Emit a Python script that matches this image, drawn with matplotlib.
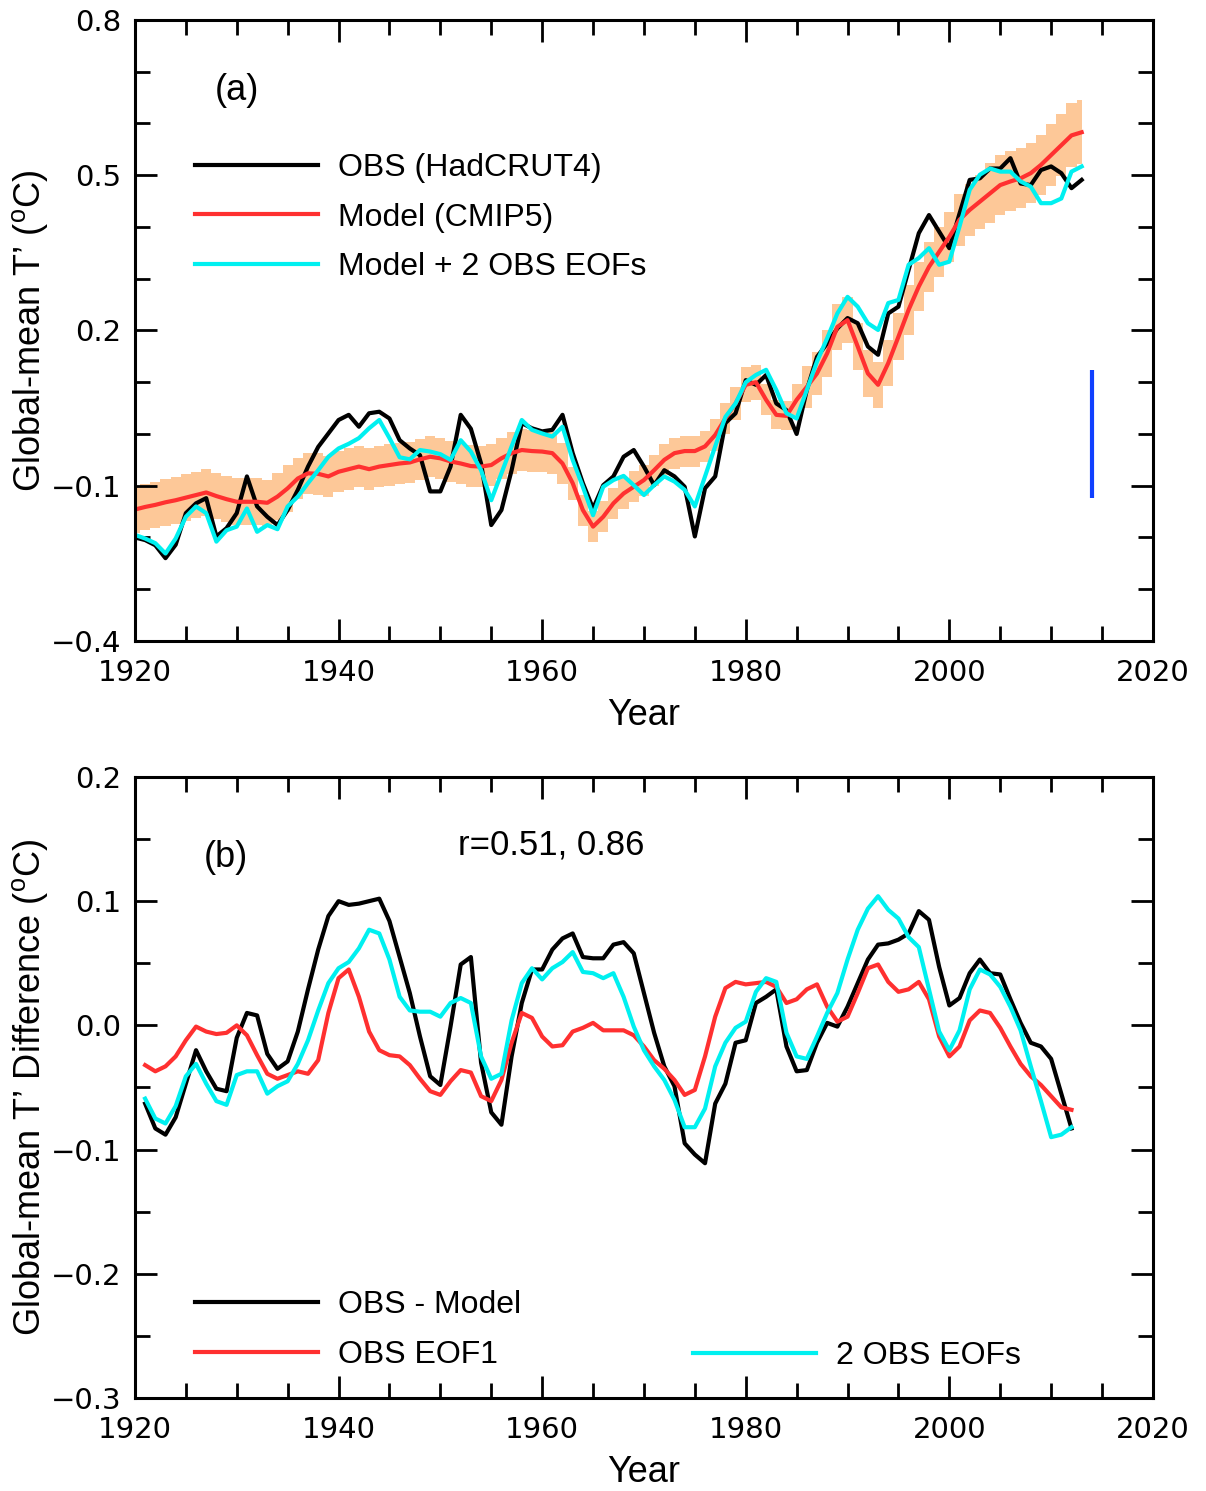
import numpy as np
import matplotlib
matplotlib.use("Agg")
import matplotlib.pyplot as plt
from matplotlib.ticker import FixedLocator, MultipleLocator, FuncFormatter

plt.rcParams['font.family'] = ['Liberation Sans', 'DejaVu Sans']
plt.rcParams['mathtext.fontset'] = 'custom'
plt.rcParams['mathtext.rm'] = 'Liberation Sans'

# ---- panel (a): annual global-mean T' (1920-2013)
years_a = list(range(1920, 2014))
obs_a = [
    -0.200, -0.205, -0.215, -0.240, -0.214, -0.153, -0.134, -0.124, -0.198, -0.182,
    -0.153, -0.082, -0.140, -0.160, -0.176, -0.147, -0.108, -0.063, -0.025, 0.001,
    0.027, 0.037, 0.014, 0.040, 0.043, 0.030, -0.012, -0.028, -0.041, -0.111,
    -0.111, -0.063, 0.037, 0.010, -0.057, -0.176, -0.147, -0.070, 0.021, 0.011,
    0.005, 0.008, 0.037, -0.037, -0.095, -0.144, -0.099, -0.082, -0.044, -0.031,
    -0.063, -0.099, -0.070, -0.082, -0.102, -0.198, -0.105, -0.082, 0.021, 0.040,
    0.104, 0.095, 0.114, 0.059, 0.046, 0.000, 0.085, 0.149, 0.175, 0.204,
    0.224, 0.214, 0.169, 0.153, 0.233, 0.246, 0.317, 0.388, 0.423, 0.391,
    0.359, 0.426, 0.491, 0.494, 0.513, 0.513, 0.533, 0.484, 0.481, 0.510,
    0.517, 0.504, 0.475, 0.491]
model_a = [
    -0.146, -0.141, -0.137, -0.132, -0.128, -0.123, -0.118, -0.113, -0.120, -0.126,
    -0.131, -0.131, -0.131, -0.133, -0.121, -0.105, -0.086, -0.076, -0.077, -0.082,
    -0.073, -0.068, -0.063, -0.068, -0.063, -0.060, -0.057, -0.055, -0.049, -0.044,
    -0.047, -0.053, -0.057, -0.062, -0.063, -0.060, -0.047, -0.037, -0.031, -0.033,
    -0.034, -0.037, -0.057, -0.095, -0.147, -0.179, -0.160, -0.134, -0.115, -0.102,
    -0.089, -0.070, -0.050, -0.037, -0.033, -0.033, -0.024, -0.002, 0.030, 0.059,
    0.095, 0.100, 0.066, 0.037, 0.035, 0.066, 0.091, 0.117, 0.156, 0.207,
    0.220, 0.169, 0.117, 0.095, 0.137, 0.188, 0.240, 0.285, 0.323, 0.352,
    0.381, 0.414, 0.433, 0.449, 0.465, 0.481, 0.488, 0.494, 0.504, 0.520,
    0.539, 0.558, 0.577, 0.583]
model_eof_a = [
    -0.195, -0.202, -0.211, -0.231, -0.202, -0.160, -0.140, -0.153, -0.208, -0.186,
    -0.179, -0.144, -0.189, -0.176, -0.184, -0.140, -0.121, -0.095, -0.070, -0.044,
    -0.028, -0.019, -0.008, 0.011, 0.027, -0.008, -0.045, -0.049, -0.031, -0.034,
    -0.039, -0.050, -0.012, -0.034, -0.070, -0.128, -0.076, -0.024, 0.027, 0.008,
    0.001, -0.005, 0.014, -0.050, -0.102, -0.157, -0.102, -0.089, -0.081, -0.099,
    -0.118, -0.099, -0.082, -0.092, -0.108, -0.140, -0.082, -0.024, 0.033, 0.059,
    0.100, 0.114, 0.124, 0.085, 0.040, 0.030, 0.085, 0.140, 0.185, 0.233,
    0.265, 0.246, 0.214, 0.201, 0.253, 0.259, 0.327, 0.340, 0.359, 0.327,
    0.333, 0.401, 0.472, 0.501, 0.513, 0.507, 0.507, 0.488, 0.478, 0.446,
    0.446, 0.455, 0.507, 0.517]
# half-width of the CMIP5 spread band
spread_a = [
    0.045, 0.045, 0.045, 0.045, 0.045, 0.045, 0.045, 0.045, 0.045, 0.045,
    0.045, 0.045, 0.045, 0.045, 0.045, 0.045, 0.040, 0.040, 0.040, 0.040,
    0.040, 0.040, 0.040, 0.040, 0.040, 0.040, 0.040, 0.040, 0.040, 0.040,
    0.040, 0.040, 0.040, 0.040, 0.040, 0.040, 0.040, 0.040, 0.040, 0.040,
    0.040, 0.040, 0.040, 0.032, 0.030, 0.030, 0.030, 0.030, 0.030, 0.030,
    0.030, 0.030, 0.030, 0.030, 0.030, 0.030, 0.030, 0.030, 0.030, 0.032,
    0.034, 0.034, 0.030, 0.028, 0.028, 0.030, 0.040, 0.042, 0.045, 0.045,
    0.045, 0.045, 0.045, 0.045, 0.045, 0.045, 0.048, 0.048, 0.048, 0.048,
    0.048, 0.050, 0.050, 0.052, 0.058, 0.058, 0.058, 0.058, 0.058, 0.058,
    0.060, 0.060, 0.062, 0.062]
bar_year = 2014
bar_range = [-0.124, 0.124]
yticks_a = [-0.4, -0.1, 0.2, 0.5, 0.8]

# ---- panel (b): differences (1921-2012)
years_b = list(range(1921, 2013))
obs_minus_model = [
    -0.063, -0.083, -0.088, -0.074, -0.047, -0.020, -0.037, -0.051, -0.053, -0.010,
    0.010, 0.008, -0.023, -0.035, -0.029, -0.005, 0.029, 0.061, 0.088, 0.100,
    0.097, 0.098, 0.100, 0.102, 0.084, 0.055, 0.026, -0.009, -0.041, -0.048,
    -0.001, 0.049, 0.055, -0.030, -0.070, -0.080, -0.025, 0.018, 0.045, 0.045,
    0.061, 0.070, 0.074, 0.055, 0.054, 0.054, 0.065, 0.067, 0.058, 0.026,
    -0.006, -0.033, -0.049, -0.095, -0.104, -0.111, -0.063, -0.047, -0.014, -0.012,
    0.018, 0.023, 0.029, -0.017, -0.037, -0.036, -0.014, 0.002, -0.001, 0.015,
    0.034, 0.053, 0.065, 0.066, 0.069, 0.074, 0.092, 0.085, 0.047, 0.016,
    0.022, 0.042, 0.053, 0.042, 0.041, 0.021, 0.002, -0.014, -0.017, -0.027,
    -0.055, -0.083]
eof1 = [
    -0.032, -0.037, -0.033, -0.025, -0.012, -0.001, -0.005, -0.007, -0.006, 0.000,
    -0.008, -0.024, -0.039, -0.043, -0.040, -0.037, -0.039, -0.028, 0.010, 0.038,
    0.045, 0.023, -0.005, -0.020, -0.024, -0.025, -0.032, -0.043, -0.053, -0.056,
    -0.045, -0.036, -0.038, -0.057, -0.061, -0.044, -0.014, 0.010, 0.006, -0.009,
    -0.017, -0.016, -0.005, -0.002, 0.002, -0.004, -0.004, -0.004, -0.008, -0.017,
    -0.028, -0.035, -0.044, -0.056, -0.052, -0.025, 0.007, 0.030, 0.035, 0.033,
    0.034, 0.035, 0.031, 0.018, 0.021, 0.029, 0.033, 0.015, 0.003, 0.007,
    0.026, 0.046, 0.049, 0.035, 0.027, 0.029, 0.035, 0.021, -0.009, -0.025,
    -0.017, 0.004, 0.012, 0.010, -0.002, -0.017, -0.031, -0.041, -0.048, -0.057,
    -0.066, -0.068]
eof2 = [
    -0.059, -0.075, -0.079, -0.065, -0.041, -0.031, -0.047, -0.061, -0.064, -0.040,
    -0.037, -0.037, -0.055, -0.049, -0.045, -0.031, -0.012, 0.012, 0.034, 0.046,
    0.051, 0.062, 0.077, 0.074, 0.053, 0.023, 0.012, 0.011, 0.011, 0.007,
    0.018, 0.022, 0.018, -0.025, -0.043, -0.039, 0.004, 0.034, 0.046, 0.037,
    0.046, 0.051, 0.059, 0.043, 0.042, 0.038, 0.042, 0.023, -0.001, -0.020,
    -0.033, -0.044, -0.060, -0.082, -0.082, -0.067, -0.033, -0.014, -0.002, 0.003,
    0.027, 0.038, 0.035, -0.006, -0.025, -0.027, -0.009, 0.010, 0.026, 0.053,
    0.077, 0.094, 0.104, 0.093, 0.086, 0.071, 0.063, 0.029, -0.005, -0.020,
    -0.004, 0.029, 0.045, 0.041, 0.031, 0.015, -0.004, -0.033, -0.061, -0.090,
    -0.088, -0.082]

BLACK, RED, CYAN, BAND, BLUE = 'black', '#ff3030', '#00f0f0', '#fdc898', '#1040ff'
LW = 3.0
FS_LAB, FS_LEG, FS_PANEL = 26, 23, 26

fig = plt.figure(figsize=(12.06, 14.91), dpi=100)
ax1 = fig.add_axes([0.1119, 0.5701, 0.8441, 0.4165])
ax2 = fig.add_axes([0.1119, 0.0624, 0.8441, 0.4165])

minus_fmt = FuncFormatter(lambda v, p: f'{v:.1f}'.replace('-', '\u2212'))


def style_axes(ax):
    ax.set_xlim(1920, 2020)
    ax.xaxis.set_major_locator(MultipleLocator(20))
    ax.xaxis.set_minor_locator(MultipleLocator(5))
    ax.yaxis.set_major_formatter(minus_fmt)
    ax.tick_params(which='both', direction='in', top=True, right=True, width=2.0)
    ax.tick_params(which='major', length=16, pad=10)
    ax.tick_params(axis='x', which='major', pad=13)
    ax.tick_params(which='minor', length=11)
    for lab in ax.get_xticklabels() + ax.get_yticklabels():
        lab.set_fontfamily('DejaVu Sans')
        lab.set_fontsize(21)
    for s in ax.spines.values():
        s.set_linewidth(2.2)
    ax.set_xlabel('Year', fontsize=FS_LAB, labelpad=8)


# panel (a)
ya = np.array(model_a)
sp = np.array(spread_a)
ax1.fill_between(years_a, ya - sp, ya + sp, step='mid', color=BAND, lw=0)
ax1.plot(years_a, obs_a, color=BLACK, lw=LW, label='OBS (HadCRUT4)')
ax1.plot(years_a, model_a, color=RED, lw=LW, label='Model (CMIP5)')
ax1.plot(years_a, model_eof_a, color=CYAN, lw=LW, label='Model + 2 OBS EOFs')
ax1.vlines(bar_year, bar_range[0], bar_range[1], color=BLUE, lw=LW)
ax1.set_ylim(-0.4, 0.8)
ax1.yaxis.set_major_locator(FixedLocator(yticks_a))
ax1.yaxis.set_minor_locator(MultipleLocator(0.1))
style_axes(ax1)
ax1.set_ylabel('Global-mean T\u2019 ($^{\\rm o}$C)', fontsize=FS_LAB, labelpad=0)
ax1.text(0.100, 0.887, '(a)', transform=ax1.transAxes, fontsize=FS_PANEL,
         ha='center', va='center')
ax1.legend(loc='upper left', bbox_to_anchor=(0.059, 0.786), frameon=False,
           fontsize=FS_LEG, handlelength=3.85, handletextpad=0.62,
           labelspacing=0.62, borderpad=0, borderaxespad=0)

# panel (b)
l_obs, = ax2.plot(years_b, obs_minus_model, color=BLACK, lw=LW)
l_e1, = ax2.plot(years_b, eof1, color=RED, lw=LW)
l_e2, = ax2.plot(years_b, eof2, color=CYAN, lw=LW)
ax2.set_ylim(-0.3, 0.2)
ax2.yaxis.set_major_locator(MultipleLocator(0.1))
ax2.yaxis.set_minor_locator(MultipleLocator(0.05))
style_axes(ax2)
ax2.set_ylabel('Global-mean T\u2019 Difference ($^{\\rm o}$C)', fontsize=FS_LAB,
               labelpad=0)
ax2.text(0.089, 0.870, '(b)', transform=ax2.transAxes, fontsize=FS_PANEL,
         ha='center', va='center')
ax2.text(0.409, 0.890, 'r=0.51, 0.86', transform=ax2.transAxes, fontsize=25,
         ha='center', va='center')
leg_kw = dict(loc='upper left', frameon=False, fontsize=FS_LEG, handlelength=3.85,
              handletextpad=0.62, labelspacing=0.62, borderpad=0, borderaxespad=0)
leg1 = ax2.legend([l_obs, l_e1], ['OBS - Model', 'OBS EOF1'],
                  bbox_to_anchor=(0.059, 0.174), **leg_kw)
ax2.add_artist(leg1)
ax2.legend([l_e2], ['2 OBS EOFs'], bbox_to_anchor=(0.548, 0.092), **leg_kw)

fig.savefig('out.png', dpi=100, facecolor='white')
